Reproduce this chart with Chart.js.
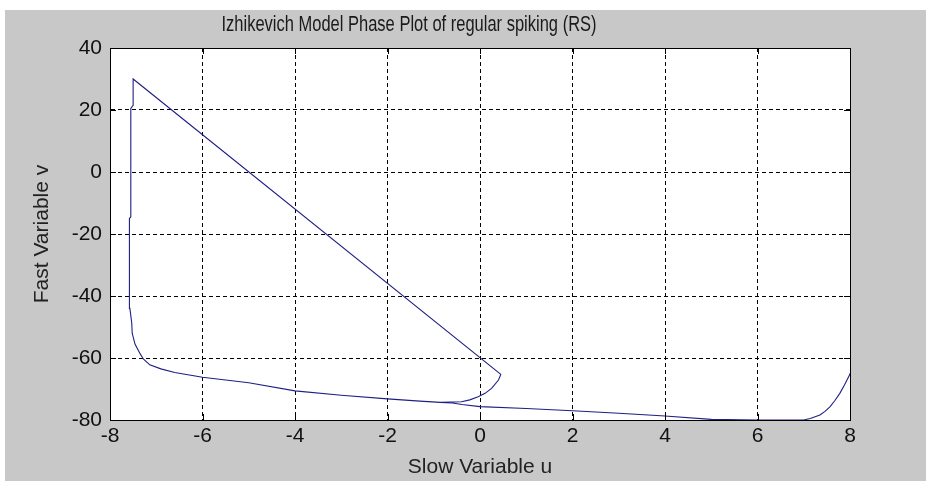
<!DOCTYPE html>
<html>
<head>
<meta charset="utf-8">
<script src="https://cdn.jsdelivr.net/npm/chart.js@4.4.1/dist/chart.umd.min.js"></script>
<style>
  html, body { margin: 0; padding: 0; background: #fff; }
</style>
</head>
<body>
<canvas id="phase" width="926" height="481"></canvas>
<script>
// values: slow variable u (x) and fast variable v (y)
const uValues = [8.0, 7.99, 7.88, 7.78, 7.67, 7.57, 7.46, 7.35, 7.14, 7.0, 6.0, 5.0, 4.0, 3.0, 2.0, 1.0, 0.0,
  -0.39, -0.6, -0.86, -1.3, -2.0, -3.0, -4.0, -5.0, -6.0, -6.6, -6.9, -7.14, -7.28, -7.35, -7.46, -7.52, -7.53,
  -7.57, -7.58, -7.55, -7.55, -7.5, -7.5, 0.45, 0.40, 0.25, 0.11, -0.04, -0.22, -0.40, -0.86];
const vValues = [-65.0, -65.5, -68.7, -71.4, -73.8, -75.7, -77.2, -78.4, -79.5, -80.0, -80.0, -79.8, -78.7, -77.8, -77.0, -76.3, -75.7,
  -75.0, -74.5, -74.3, -73.9, -73.2, -72.0, -70.6, -68.0, -66.2, -64.7, -63.5, -62.2, -60.3, -58.6, -55.5, -52.0, -48.7,
  -44.0, -15.0, -14.5, 20.5, 21.5, 30.0, -65.3, -67.1, -69.8, -71.4, -72.5, -73.5, -74.1, -74.3];
const xTicks = [-8, -6, -4, -2, 0, 2, 4, 6, 8];
const yTicks = [-80, -60, -40, -20, 0, 20, 40];
const chartTitle = 'Izhikevich Model Phase Plot of regular spiking (RS)';
const xLabel = 'Slow Variable u';
const yLabel = 'Fast Variable v';

const points = uValues.map((u, i) => ({x: u, y: vValues[i]}));
const FONT = "'Liberation Sans', Arial, sans-serif";

// gray figure with white axes, like matlab
const figureBg = {
  id: 'figureBg',
  beforeDraw(chart) {
    const c = chart.ctx, a = chart.chartArea;
    c.save();
    c.fillStyle = '#fff';
    c.fillRect(0, 0, chart.width, chart.height);
    c.fillStyle = '#c8c8c8';
    c.fillRect(5, 10, chart.width - 5, chart.height - 10);
    c.fillStyle = '#fff';
    c.fillRect(a.left, a.top, a.right - a.left, a.bottom - a.top);
    c.restore();
  }
};

// box round the axes + small inner ticks, and the title (not centred on the axes in the original)
const axesBox = {
  id: 'axesBox',
  afterDraw(chart) {
    const c = chart.ctx, a = chart.chartArea;
    const sx = chart.scales.x, sy = chart.scales.y;
    c.save();
    c.strokeStyle = '#000';
    c.lineWidth = 1;
    c.setLineDash([]);
    c.beginPath();
    xTicks.forEach(t => {
      const px = Math.round(sx.getPixelForValue(t)) + 0.5;
      c.moveTo(px, a.bottom); c.lineTo(px, a.bottom - 6);
      c.moveTo(px, a.top); c.lineTo(px, a.top + 6);
    });
    yTicks.forEach(t => {
      const py = Math.round(sy.getPixelForValue(t)) + 0.5;
      c.moveTo(a.left, py); c.lineTo(a.left + 6, py);
      c.moveTo(a.right, py); c.lineTo(a.right - 6, py);
    });
    c.stroke();
    c.strokeRect(Math.round(a.left) + 0.5, Math.round(a.top) + 0.5,
      Math.round(a.right - a.left), Math.round(a.bottom - a.top));
    // title glyphs are tall and narrow in the original -> stretch vertically
    c.fillStyle = '#1a1a1a';
    c.font = "16.5px " + FONT;
    c.textAlign = 'center';
    c.textBaseline = 'middle';
    c.translate(409, 24.5);
    c.scale(1, 1.35);
    c.fillText(chartTitle, 0, 0);
    c.restore();
  }
};

new Chart(document.getElementById('phase'), {
  type: 'scatter',
  data: {
    datasets: [{
      label: 'RS',
      data: points,
      showLine: true,
      borderColor: '#1f1f85',
      borderWidth: 1.1,
      pointRadius: 0,
      tension: 0,
      clip: 3
    }]
  },
  options: {
    responsive: false,
    animation: false,
    layout: {padding: {top: 48, right: 76, left: 0, bottom: 0}},
    plugins: {legend: {display: false}, title: {display: false}, tooltip: {enabled: false}},
    scales: {
      x: {
        type: 'linear', min: -8, max: 8,
        afterBuildTicks: s => { s.ticks = xTicks.map(v => ({value: v})); },
        afterFit: s => { s.height = 61; },
        grid: {color: '#000', lineWidth: 1, drawTicks: false},
        border: {display: true, color: '#000', dash: [4, 3]},
        ticks: {color: '#111', font: {family: FONT, size: 21}, padding: 4, maxRotation: 0},
        title: {display: true, text: xLabel, color: '#222', font: {family: FONT, size: 21}, padding: {top: 1, bottom: 1}}
      },
      y: {
        type: 'linear', min: -80, max: 40,
        afterBuildTicks: s => { s.ticks = yTicks.map(v => ({value: v})); },
        afterFit: s => { s.width = 110; },
        grid: {color: '#000', lineWidth: 1, drawTicks: false},
        border: {display: true, color: '#000', dash: [4, 3]},
        ticks: {color: '#111', font: {family: FONT, size: 21}, padding: 8},
        title: {display: true, text: yLabel, color: '#222', font: {family: FONT, size: 21}, padding: {top: 30, bottom: 1}}
      }
    }
  },
  plugins: [figureBg, axesBox]
});
</script>
</body>
</html>
